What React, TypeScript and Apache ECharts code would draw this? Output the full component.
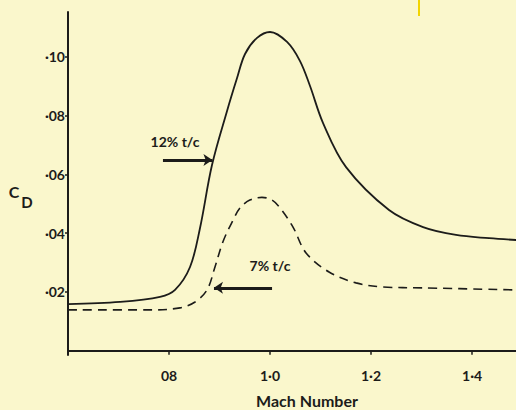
import React, { useEffect, useRef } from "react";
import * as echarts from "echarts";

const machSolid = [0.6, 0.703, 0.7822, 0.8119, 0.8416, 0.8614, 0.8851, 0.9149, 0.9347, 0.9505, 0.9743, 1.0, 1.0337, 1.0594, 1.0792, 1.105, 1.1505, 1.2356, 1.303, 1.3683, 1.4337, 1.4871];
const cdSolid = [0.0159, 0.0166, 0.0183, 0.0207, 0.0285, 0.0418, 0.0632, 0.0816, 0.0928, 0.101, 0.1065, 0.1085, 0.1051, 0.0986, 0.0901, 0.0775, 0.0625, 0.0479, 0.0421, 0.0394, 0.0383, 0.0377];

const machDashed = [0.6, 0.7624, 0.8218, 0.8515, 0.8752, 0.891, 0.907, 0.927, 0.9406, 0.96, 0.984, 1.004, 1.0198, 1.0455, 1.0713, 1.1168, 1.1703, 1.2238, 1.303, 1.487];
const cdDashed = [0.0139, 0.0139, 0.0146, 0.0166, 0.0207, 0.0285, 0.0372, 0.0445, 0.0486, 0.0513, 0.0522, 0.0513, 0.0486, 0.0421, 0.0333, 0.0268, 0.0231, 0.0217, 0.0214, 0.0207];

const yTicks = [0.02, 0.04, 0.06, 0.08, 0.1];
const yTickLabels = ["·02", "·04", "·06", "·08", "·10"];
const xTicks = [0.8, 1.0, 1.2, 1.4];
const xTickLabels = ["08", "1·0", "1·2", "1·4"];

const label12 = "12% t/c";
const label7 = "7% t/c";
const xTitle = "Mach Number";
const arrow12 = { y: 0.0649, from: 0.788, to: 0.886 };
const arrow7 = { y: 0.0214, from: 1.004, to: 0.889 };

const INK = "#1c1c1a";
const FONT = "Lato, 'Open Sans', sans-serif";

export default function App() {
  const ref = useRef<HTMLDivElement>(null);
  useEffect(() => {
    document.body.style.margin = "0";
    const chart = echarts.init(ref.current!, null, { renderer: "svg" });
    const solid = machSolid.map((m, i) => [m, cdSolid[i]]);
    const dashed = machDashed.map((m, i) => [m, cdDashed[i]]);
    const arrowLine = (a: { y: number; from: number; to: number }) => ({
      silent: true,
      symbol: ["none", "arrow"],
      symbolSize: 9,
      lineStyle: { color: INK, width: 2.8, type: "solid" },
      label: { show: false },
      data: [[{ coord: [a.from, a.y] }, { coord: [a.to, a.y] }]],
    });
    chart.setOption({
      animation: false,
      backgroundColor: "#faf7cc",
      grid: { left: 68, top: 12, right: 0, bottom: 55 },
      xAxis: {
        type: "value",
        min: 0.6,
        max: 1.487,
        splitLine: { show: false },
        axisLine: { lineStyle: { color: INK, width: 2 } },
        axisTick: { show: true, customValues: xTicks, length: 4, lineStyle: { color: INK, width: 1.5 } },
        axisLabel: {
          customValues: xTicks,
          formatter: (v: number) => {
            const i = xTicks.findIndex((t) => Math.abs(t - v) < 1e-6);
            return i >= 0 ? xTickLabels[i] : "";
          },
          color: INK,
          fontFamily: FONT,
          fontWeight: "bold",
          fontSize: 14,
          margin: 13,
        },
      },
      yAxis: {
        type: "value",
        min: -0.00145,
        max: 0.1153,
        splitLine: { show: false },
        axisLine: { show: true, lineStyle: { color: INK, width: 2 } },
        axisTick: { show: true, customValues: yTicks, length: 3, lineStyle: { color: INK, width: 1.5 } },
        axisLabel: {
          customValues: yTicks,
          formatter: (v: number) => {
            const i = yTicks.findIndex((t) => Math.abs(t - v) < 1e-6);
            return i >= 0 ? yTickLabels[i] : "";
          },
          color: INK,
          fontFamily: FONT,
          fontWeight: "bold",
          fontSize: 14,
          margin: 3,
        },
      },
      series: [
        {
          type: "line",
          data: solid,
          smooth: 0.35,
          symbol: "none",
          lineStyle: { color: INK, width: 1.8 },
          markLine: arrowLine(arrow12),
        },
        {
          type: "line",
          data: dashed,
          smooth: 0.35,
          symbol: "none",
          lineStyle: { color: INK, width: 1.6, type: [9, 6] },
          markLine: arrowLine(arrow7),
        },
      ],
      graphic: [
        {
          type: "text",
          x: 307,
          y: 400,
          style: { text: xTitle, fill: INK, font: `bold 16px ${FONT}`, align: "center", verticalAlign: "middle" },
        },
        {
          type: "text",
          x: 175,
          y: 141,
          style: { text: label12, fill: INK, font: `bold 14px ${FONT}`, align: "center", verticalAlign: "middle" },
        },
        {
          type: "text",
          x: 270,
          y: 265,
          style: { text: label7, fill: INK, font: `bold 14px ${FONT}`, align: "center", verticalAlign: "middle" },
        },
        {
          type: "text",
          x: 14,
          y: 191,
          style: { text: "C", fill: INK, font: `bold 16px ${FONT}`, align: "center", verticalAlign: "middle" },
        },
        {
          type: "text",
          x: 27,
          y: 202,
          style: { text: "D", fill: INK, font: `bold 15px ${FONT}`, align: "center", verticalAlign: "middle" },
        },
        {
          type: "rect",
          shape: { x: 418, y: 0, width: 2, height: 16 },
          style: { fill: "#f2d400" },
        },
      ],
    });
    return () => chart.dispose();
  }, []);
  return <div ref={ref} style={{ width: 516, height: 410, position: "absolute", left: 0, top: 0 }} />;
}
